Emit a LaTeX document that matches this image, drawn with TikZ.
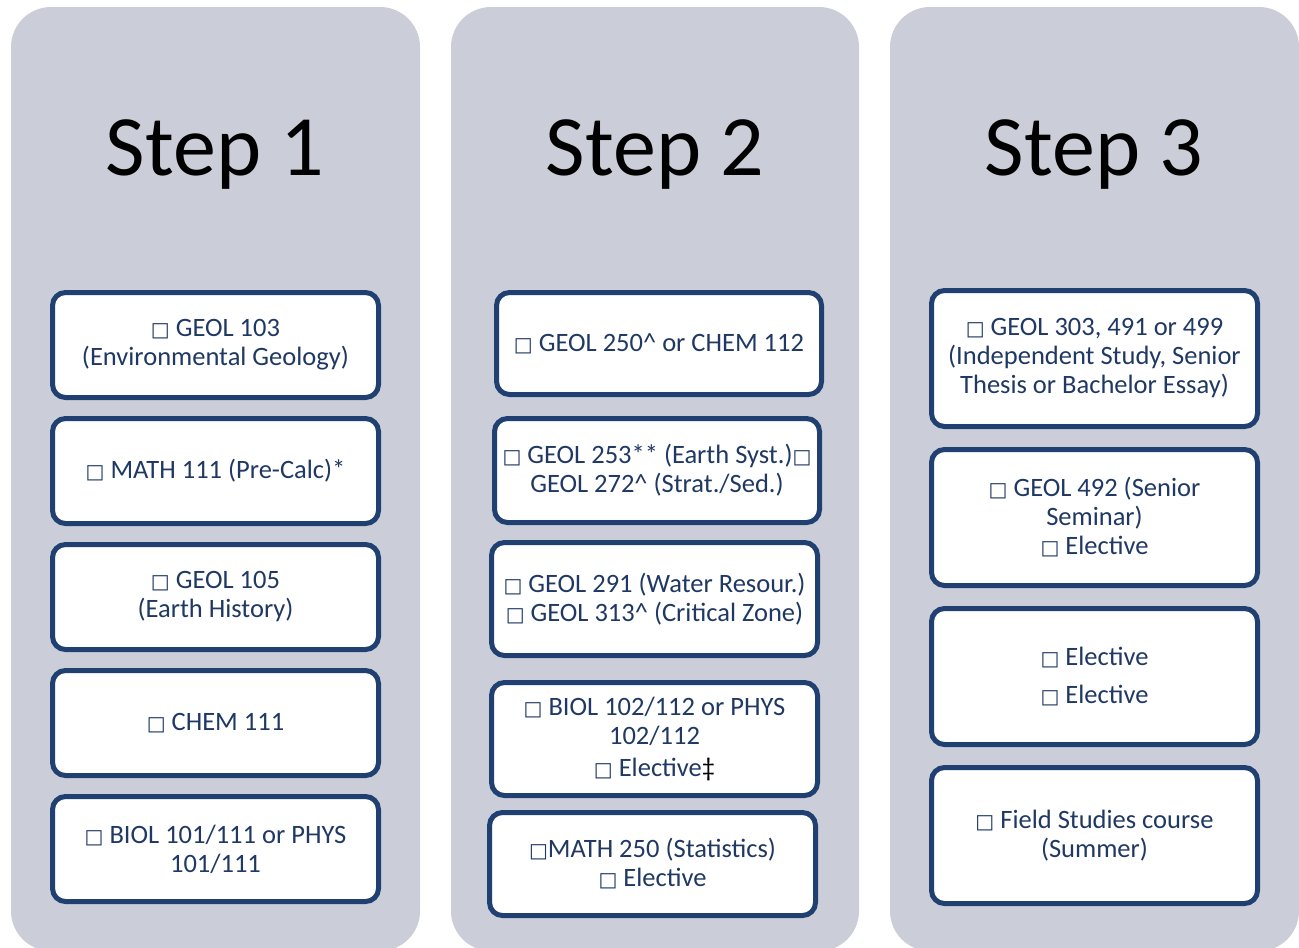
\documentclass[tikz,border=0pt]{standalone}
\usepackage{fontspec}
\setmainfont{Carlito}
\newfontfamily\symfont{DejaVu Sans}
\usepackage{tikz}
\definecolor{colgray}{RGB}{203,206,216}
\definecolor{boxblue}{RGB}{31,64,113}
\definecolor{textblue}{RGB}{31,56,100}
\newcommand{\sq}{{\symfont\fontsize{20}{20}\selectfont □}}
\tikzset{%
  column/.style={fill=colgray,rounded corners=40pt},%
  steptitle/.style={anchor=base,font=\fontsize{86}{90}\selectfont},%
  course/.style={draw=boxblue,line width=5pt,rounded corners=13pt,fill=white,%
    align=center,text=textblue,inner sep=0pt,font=\fontsize{26.5}{29}\selectfont}%
}

\begin{document}
\begin{tikzpicture}[x=1pt,y=-1pt]
    \useasboundingbox (0,0) rectangle (1299,948);
    \clip (0,0) rectangle (1299,948);
    \fill[column] (11,7) rectangle (420,951);
    \fill[column] (451,7) rectangle (859,951);
    \fill[column] (890,7) rectangle (1299,951);
    \node[steptitle] (t1) at (215,175) {Step 1};
    \node[steptitle] (t2) at (655,175) {Step 2};
    \node[steptitle] (t3) at (1094,175) {Step 3};
    % step 1
    \node[course,minimum width=326pt,minimum height=105pt] (a1) at (215.5,345)
    {\sq{} GEOL 103\\(Environmental Geology)};
    \node[course,minimum width=326pt,minimum height=105pt] (a2) at (215.5,471)
    {\sq{} MATH 111 (Pre-Calc)*};
    \node[course,minimum width=326pt,minimum height=105pt] (a3) at (215.5,597)
    {\sq{} GEOL 105\\(Earth History)};
    \node[course,minimum width=326pt,minimum height=105pt] (a4) at (215.5,723)
    {\sq{} CHEM 111};
    \node[course,minimum width=326pt,minimum height=105pt] (a5) at (215.5,849)
    {\sq{} BIOL 101/111 or PHYS\\101/111};
    % step 2
    \node[course,minimum width=325pt,minimum height=102pt] (b1) at (659,343.5)
    {\sq{} GEOL 250\textasciicircum{} or CHEM 112};
    \node[course,minimum width=325pt,minimum height=104pt] (b2) at (657,470.5)
    {\sq{} GEOL 253** (Earth Syst.)\sq\\GEOL 272\textasciicircum{} (Strat./Sed.)};
    \node[course,minimum width=326pt,minimum height=113pt] (b3) at (654.5,599)
    {\sq{} GEOL 291 (Water Resour.)\\\sq{} GEOL 313\textasciicircum{} (Critical Zone)};
    \node[course,minimum width=326pt,minimum height=113pt] (b4) at (654.5,739)
    {\sq{} BIOL 102/112 or PHYS\\102/112\\[3pt]\sq{} Elective{\color{black}‡}};
    \node[course,minimum width=326pt,minimum height=103pt] (b5) at (652.5,864)
    {\sq MATH 250 (Statistics)\\\sq{} Elective};
    % step 3
    \node[course,minimum width=326pt,minimum height=136pt] (c1) at (1094.5,358.5)
    {\sq{} GEOL 303, 491 or 499\\(Independent Study, Senior\\Thesis or Bachelor Essay)};
    \node[course,minimum width=326pt,minimum height=136pt] (c2) at (1094.5,517.5)
    {\sq{} GEOL 492 (Senior\\Seminar)\\\sq{} Elective};
    \node[course,minimum width=326pt,minimum height=136pt] (c3) at (1094.5,676.5)
    {\sq{} Elective\\[9pt]\sq{} Elective};
    \node[course,minimum width=326pt,minimum height=136pt] (c4) at (1094.5,835.5)
    {\sq{} Field Studies course\\(Summer)};
\end{tikzpicture}
\end{document}
